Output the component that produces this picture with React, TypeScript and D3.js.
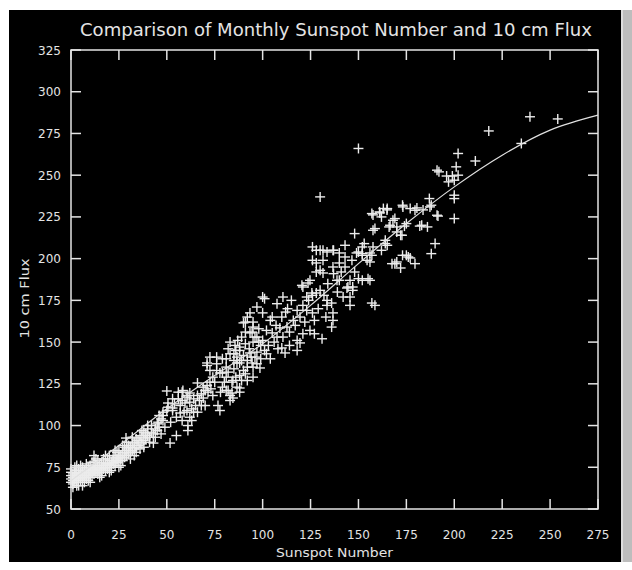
import React from "react";
import * as d3 from "d3";

// ---- Data ----
const xTicks = [0, 25, 50, 75, 100, 125, 150, 175, 200, 225, 250, 275];
const yTicks = [50, 75, 100, 125, 150, 175, 200, 225, 250, 275, 300, 325];

// Fitted curve (sunspot, flux)
const curveSunspot = [0, 25, 50, 75, 100, 125, 150, 175, 200, 225, 250, 275];
const curveFlux = [67, 88, 110, 130, 149, 172, 197, 221, 243, 262, 277, 286];

// Monthly observations: [sunspot number, 10 cm flux]
const lowBlob: [number, number][] = [
  [0, 66], [0, 68], [0, 70], [0, 72], [0, 74], [1, 67], [1, 69], [1, 71], [1, 63], [1, 65], [2, 66], [2, 68], [2, 70],
  [2, 73], [2, 75], [3, 64], [3, 67], [3, 69], [3, 71], [3, 76], [4, 64], [4, 68], [4, 70], [4, 72], [4, 74], [5, 67],
  [5, 69], [5, 71], [5, 73], [5, 76], [6, 64], [6, 68], [6, 70], [6, 72], [6, 75], [7, 66], [7, 69], [7, 71], [7, 73],
  [8, 68], [8, 70], [8, 72], [8, 74], [8, 77], [9, 67], [9, 70], [9, 72], [9, 75], [10, 66], [10, 69], [10, 71],
  [10, 73], [10, 76], [11, 70], [11, 72], [11, 74], [11, 78], [12, 71], [12, 73], [12, 75], [12, 78], [12, 82],
  [13, 72], [13, 74], [13, 76], [13, 80], [14, 71], [14, 73], [14, 75], [14, 79], [15, 69], [15, 72], [15, 74],
  [15, 77], [16, 70], [16, 73], [16, 75], [16, 78], [17, 74], [17, 76], [17, 80], [18, 73], [18, 75], [18, 77],
  [18, 82], [19, 74], [19, 77], [19, 80], [20, 72], [20, 75], [20, 77], [20, 79], [20, 82], [21, 73], [21, 76],
  [21, 78], [22, 77], [22, 79], [22, 82], [23, 76], [23, 78], [23, 81], [23, 85], [24, 78], [24, 80], [24, 84],
  [25, 75], [25, 79], [25, 81], [25, 85], [26, 76], [26, 80], [26, 82], [27, 79], [27, 83], [27, 88], [28, 81],
  [28, 84], [28, 87], [28.7, 92.5], [29, 82], [29, 86], [29, 90], [30, 83], [30, 85], [30, 88], [31, 80], [31, 84],
  [31, 87], [32, 85], [32, 89], [32, 93], [33, 82], [33, 86], [33, 90], [34, 84], [34, 87], [34, 92], [35, 88],
  [35, 91], [36, 86], [36, 90], [36, 94], [37, 89], [37, 93], [37, 97], [38, 87], [38, 91], [38, 96], [39, 92],
  [39, 95], [40, 94], [40, 98], [40, 100], [41, 90], [41, 93], [42, 96], [42, 100], [43, 95], [43, 89.5], [44, 93],
  [44, 98], [45, 97], [45, 101], [46, 99], [47, 95],
];

const midBand: [number, number][] = [
  [46, 106], [48, 103], [45.5, 102], [50, 109], [53, 110.5], [57, 112], [60.5, 109], [62, 105], [50.6, 111],
  [53, 109], [57, 107.5], [59.5, 113.5], [51.7, 89.5], [55, 94], [61, 100], [61, 97], [47, 104], [49, 99], [52, 102],
  [55, 105], [58, 103], [48, 108], [50.6, 113.5], [48, 106], [50, 120.7], [58.4, 121], [62, 119.5], [60.5, 117],
  [58, 120], [61, 118], [58, 115], [62, 114], [70, 121], [71, 136], [76.7, 112], [77.7, 109], [81, 121], [83, 118],
  [86.6, 123], [92, 127], [84.5, 127], [72.5, 133], [74, 129], [77.7, 131.5], [81, 135], [94.5, 137.5], [86.6, 137.5],
  [71.5, 120], [69, 116.5], [66, 125.5], [71, 124], [72.5, 126], [82, 121], [84, 119.5], [83, 115], [76, 133],
  [79, 131.5], [81, 129], [82, 132], [71, 137.5], [72.5, 141], [76, 141], [83, 150], [85.6, 148], [88, 145], [86.6, 141],
  [88, 137.5], [92, 135], [93.4, 143.5], [96, 141], [95, 135], [90, 161.5], [93.4, 155.5], [95, 159], [84, 126],
  [88, 122.5], [84.5, 116.5], [88, 120], [65, 112], [67, 115], [64, 108], [68, 119], [74, 118], [79, 123], [88, 130],
  [90, 133], [85, 134], [98.6, 134.5], [95, 129], [63, 110], [66, 108], [64, 116], [68, 112], [56, 116], [54, 113],
  [81, 140], [83, 143], [85, 139], [86, 145], [88, 147], [90, 142], [91, 149], [93, 146], [95, 150], [97, 144],
  [99, 148], [100, 151], [82, 146], [87, 151], [92, 139], [96, 153], [89, 139], [94, 141],
  [53, 116], [56, 120], [59, 108], [63, 103], [66, 118], [69, 123], [70, 112], [73, 122], [75, 126], [78, 120],
  [80, 126], [86, 129], [89, 127], [91, 131], [97, 137], [99, 140], [101, 145], [104, 140], [76, 137], [79, 140],
  [85, 143], [89, 153], [91, 156], [98, 158],
];

const upperBand: [number, number][] = [
  [92, 165], [95, 162], [91, 162], [94.5, 156], [97, 153], [100, 167.5], [104, 163], [102, 157], [105, 155.5],
  [107.5, 153], [109, 158.5], [101, 176], [107.5, 173], [110.6, 177], [113, 170], [110, 165], [112.7, 159], [110.6, 153],
  [116, 163], [118, 151], [119.5, 149.5], [118, 145], [110, 146.5], [111.7, 143.5], [119.5, 165], [123, 169], [122, 162],
  [124.7, 157], [127, 163], [126, 167.5], [120.5, 184], [123.7, 185.4], [128, 179.4], [125.7, 179.4], [130, 193],
  [131.5, 191.4], [128, 197.4], [131.5, 205], [136.7, 167.5], [136.7, 163], [136, 159], [133.6, 172], [100, 177],
  [97, 171], [93.4, 167.5], [118, 169], [103, 148], [106, 150], [114, 156], [98, 150], [102, 143], [108, 146],
  [126, 207], [128, 205], [130, 205], [133.6, 204], [136.7, 205], [140, 203.4], [150, 204], [152, 202], [143, 201],
  [146.6, 199], [126, 199], [128, 192], [124.7, 187], [136.7, 195], [140, 197.4], [138.8, 187], [145.6, 187], [144.5, 183],
  [150, 188], [155, 188], [130, 181], [126, 178], [123, 177], [121, 183], [133.6, 175], [136, 173.4], [144, 182.4],
  [147, 181], [142, 177], [145.6, 177], [145.6, 172], [157, 173.4], [158.6, 172], [143, 208], [137, 205], [131.5, 199],
  [152, 187], [156, 187], [147, 183], [137, 191], [140, 187],
  [105, 165], [107, 160], [112, 168], [115, 175], [117, 160], [121, 172], [124, 175], [129, 170], [132, 178],
  [134, 185], [139, 180], [141, 192], [143, 195], [148, 192], [114, 148], [121, 155], [127, 155], [131, 152],
  [133, 165],
];

const highBand: [number, number][] = [
  [157, 227], [161, 228], [165, 230], [162, 225], [173, 232], [177, 230], [179.5, 229], [166.5, 220], [170, 219],
  [172, 214], [175, 221], [157.6, 217], [148, 215], [153, 209], [164, 211], [165, 208], [162, 205], [157, 202],
  [156, 198], [152, 203], [167.5, 197], [170, 198], [175, 202], [177, 200.4], [179.5, 197], [172, 194.4], [173.2, 231],
  [180.5, 230.4], [183.7, 229.2], [187.3, 231], [164.9, 229.2], [161.2, 227.4], [157.6, 226.2], [168, 223],
  [174, 219.5], [182, 219.5], [186, 219], [164, 209], [158.6, 218], [166, 219], [170, 216], [172.7, 214], [157.6, 207],
  [152, 207], [149, 203.4], [156, 203.4], [154.5, 199], [169, 197], [173, 202], [176, 201], [163, 230], [169, 224],
  [183, 220], [191.5, 225.5], [190, 209], [188, 203], [187, 236], [188, 232], [191, 226], [191, 253], [192, 252],
  [201, 255], [196, 249.5], [199, 249.5], [202, 250], [200, 247], [200, 238], [200, 236], [200, 224], [197, 246],
];

const outliers: [number, number][] = [
  [130, 237], [150, 266], [202, 263], [211, 258.5], [218, 276.5], [239.5, 285], [254, 283.7], [235, 269],
];

// ---- Layout ----
const W = 632;
const H = 570;
const left = 71;
const right = 598;
const top = 50;
const bottom = 509;
const tickLen = 10;
const fg = "#e4e4e4";
const font = "'DejaVu Sans', sans-serif";

export default function App() {
  const x = d3.scaleLinear().domain([0, 275]).range([left, right]);
  const y = d3.scaleLinear().domain([50, 325]).range([bottom, top]);

  const points = [...lowBlob, ...midBand, ...upperBand, ...highBand, ...outliers];
  const curveData = curveSunspot.map((s, i) => [s, curveFlux[i]] as [number, number]);
  const line = d3
    .line<[number, number]>()
    .x((d) => x(d[0]))
    .y((d) => y(d[1]))
    .curve(d3.curveMonotoneX);

  const arm = 5;

  return (
    <svg
      width={W}
      height={H}
      style={{ position: "absolute", left: 0, top: 0, display: "block" }}
      fontFamily={font}
    >
      <rect x={0} y={0} width={W} height={H} fill="#ffffff" />
      <rect x={9} y={10} width={612} height={552} fill="#000000" />
      <rect x={621} y={10} width={11} height={552} fill="#bdbdbd" />
      <line x1={622} x2={622} y1={10} y2={562} stroke="#e8e8e8" strokeWidth={1.5} />

      {/* title */}
      <text
        x={336}
        y={36}
        fill={fg}
        fontSize={17}
        textAnchor="middle"
        textLength={512}
        lengthAdjust="spacingAndGlyphs"
      >
        Comparison of Monthly Sunspot Number and 10 cm Flux
      </text>

      {/* data */}
      <g stroke="#ececec" strokeWidth={1.4}>
        {points.map((p, i) => {
          const cx = x(p[0]);
          const cy = y(p[1]);
          return (
            <g key={i}>
              <line x1={cx - arm} x2={cx + arm} y1={cy} y2={cy} />
              <line x1={cx} x2={cx} y1={cy - arm} y2={cy + arm} />
            </g>
          );
        })}
      </g>

      {/* fitted curve */}
      <path d={line(curveData) || ""} fill="none" stroke="#e0e0e0" strokeWidth={1.2} />

      {/* axes box */}
      <rect
        x={left}
        y={top}
        width={right - left}
        height={bottom - top}
        fill="none"
        stroke={fg}
        strokeWidth={1.5}
      />
      <g stroke={fg} strokeWidth={1.5}>
        {xTicks.map((t) => (
          <g key={"xt" + t}>
            <line x1={x(t)} x2={x(t)} y1={bottom} y2={bottom - tickLen} />
            <line x1={x(t)} x2={x(t)} y1={top} y2={top + tickLen} />
          </g>
        ))}
        {yTicks.map((t) => (
          <g key={"yt" + t}>
            <line x1={left} x2={left + tickLen} y1={y(t)} y2={y(t)} />
            <line x1={right} x2={right - tickLen} y1={y(t)} y2={y(t)} />
          </g>
        ))}
      </g>

      {/* tick labels */}
      <g fill={fg} fontSize={12}>
        {xTicks.map((t) => (
          <text key={"xl" + t} x={x(t)} y={539} textAnchor="middle">
            {t}
          </text>
        ))}
        {yTicks.map((t) => (
          <text key={"yl" + t} x={61} y={y(t) + 4.5} textAnchor="end">
            {t}
          </text>
        ))}
      </g>

      {/* axis titles */}
      <text
        x={(left + right) / 2}
        y={557}
        fill={fg}
        fontSize={13}
        textAnchor="middle"
        textLength={117}
        lengthAdjust="spacingAndGlyphs"
      >
        Sunspot Number
      </text>
      <text
        transform={`translate(29, ${(top + bottom) / 2 + 19}) rotate(-90)`}
        fill={fg}
        fontSize={13}
        textAnchor="middle"
        textLength={80}
        lengthAdjust="spacingAndGlyphs"
      >
        10 cm Flux
      </text>
    </svg>
  );
}
